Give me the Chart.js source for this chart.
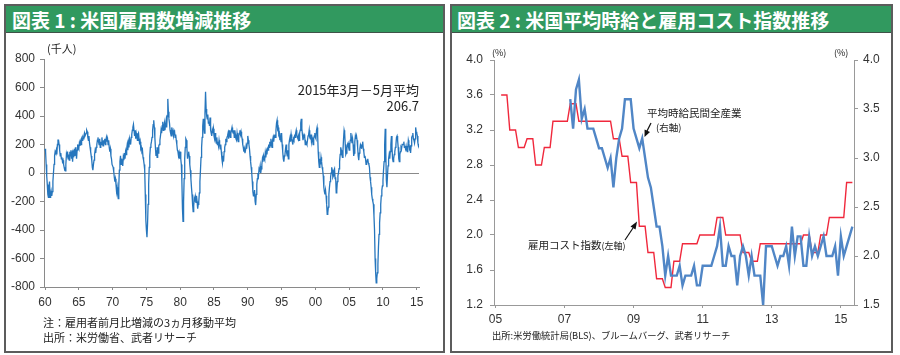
<!DOCTYPE html>
<html><head><meta charset="utf-8">
<script src="https://cdn.jsdelivr.net/npm/chart.js@4.4.1/dist/chart.umd.min.js"></script>
<style>
html,body{margin:0;padding:0;background:#fff;width:900px;height:355px;overflow:hidden;font-family:'Noto Sans CJK JP','Liberation Sans',sans-serif;}
.panel{position:absolute;top:4px;height:349px;box-sizing:border-box;border:2px solid #5c5c5c;background:#fff;}
.hdr{position:absolute;top:6px;height:27px;background:#31995f;border-bottom:1px solid #3f5248;color:#fff;font-weight:bold;font-size:19px;line-height:27px;white-space:nowrap;box-sizing:border-box;}
.t{position:absolute;white-space:nowrap;color:#222;}
canvas{position:absolute;}
svg{position:absolute;left:0;top:0;}
</style></head>
<body>
<div class="panel" style="left:4px;width:441px;"></div>
<div class="panel" style="left:450px;width:443px;"></div>
<div class="hdr" style="left:6px;width:437px;padding-left:6px;">図表 1 : 米国雇用数増減推移</div>
<div class="hdr" style="left:452px;width:439px;padding-left:5px;">図表 2 : 米国平均時給と雇用コスト指数推移</div>

<canvas id="c1" width="437" height="316" style="left:6px;top:34px;"></canvas>
<canvas id="c2" width="439" height="316" style="left:452px;top:34px;"></canvas>

<div class="t" style="left:47px;top:43px;font-size:11px;line-height:11px;">(千人)</div>
<div class="t" style="right:481px;top:83px;font-size:13px;line-height:13px;">2015年3月－5月平均</div>
<div class="t" style="right:481px;top:99px;font-size:13px;line-height:13px;">206.7</div>
<div class="t" style="left:43px;top:317px;font-size:11px;line-height:11px;">注：雇用者前月比増減の3ヵ月移動平均</div>
<div class="t" style="left:43px;top:332px;font-size:11px;line-height:11px;">出所：米労働省、武者リサーチ</div>

<div class="t" style="left:492px;top:48px;font-size:9px;line-height:9px;">(%)</div>
<div class="t" style="left:834px;top:48px;font-size:9px;line-height:9px;">(%)</div>
<div class="t" style="left:647px;top:107px;font-size:10.5px;line-height:11px;">平均時給民間全産業</div>
<div class="t" style="left:656px;top:122px;font-size:9.5px;line-height:10px;">(右軸)</div>
<div class="t" style="left:528px;top:239px;font-size:10.5px;line-height:11px;">雇用コスト指数<span style="font-size:9px;">(左軸)</span></div>
<div class="t" style="left:492px;top:330px;font-size:9.3px;line-height:10px;">出所:米労働統計局(BLS)、ブルームバーグ、武者リサーチ</div>

<svg width="900" height="355">
  <line x1="651" y1="123" x2="647" y2="131" stroke="#111" stroke-width="1.2"/>
  <polygon points="644.5,137 644.6,129.5 650,132" fill="#111"/>
  <line x1="625" y1="240" x2="633" y2="228" stroke="#111" stroke-width="1.2"/>
  <polygon points="637,221.5 630.5,226.5 635.5,229.5" fill="#111"/>
</svg>

<script>
// ---------- Chart 1: US nonfarm payroll change, 3-month moving average (thousands) ----------
const empStartYear = 1960;            // monthly, Jan 1960 .. May 2015
const employmentChange = [
  170,150,60,-20,-80,-150,-170,-100,-60,-170,-160,-130,          // 1960
  -160,-130,-60,0,60,120,150,140,160,130,200,230,                // 1961
  230,200,160,120,140,100,110,80,90,60,40,20,                    // 1962
  15,60,130,110,150,100,130,90,150,120,160,100,                  // 1963
  130,80,160,110,170,120,180,140,100,160,200,180,                // 1964
  170,210,190,220,200,240,230,250,240,260,280,260,               // 1965
  260,280,300,290,250,230,260,210,180,150,120,90,                // 1966
  40,20,60,90,130,160,140,180,200,230,250,220,                   // 1967
  200,240,180,220,200,250,210,190,230,210,240,200,               // 1968
  230,250,220,240,200,230,180,150,170,120,100,60,                // 1969
  60,40,10,-30,-60,-40,-80,-130,-100,-150,-180,-90,              // 1970
  20,80,120,60,100,80,50,110,90,140,100,150,                     // 1971
  130,170,200,160,210,180,240,220,200,250,270,300,               // 1972
  320,340,300,260,300,240,280,260,230,270,280,240,               // 1973
  200,220,170,180,150,160,110,90,60,20,-150,-330,                // 1974
  -400,-450,-360,-220,-80,40,120,180,200,220,250,300,            // 1975
  340,370,320,250,180,120,160,110,180,140,190,200,               // 1976
  230,260,300,280,330,360,300,320,350,300,340,370,               // 1977
  320,400,520,430,380,350,300,280,260,320,300,280,               // 1978
  260,300,290,250,270,230,200,160,150,120,140,100,               // 1979
  150,100,60,-60,-250,-340,-200,-40,100,180,240,230,             // 1980
  170,100,130,150,120,60,20,-40,-100,-150,-220,-270,             // 1981
  -230,-180,-200,-170,-210,-160,-200,-250,-220,-200,-140,-60,    // 1982
  20,110,180,250,330,380,320,280,420,570,450,400,                // 1983
  380,410,350,360,330,390,300,280,260,300,280,310,               // 1984
  260,240,280,230,210,250,200,220,190,230,200,170,               // 1985
  200,150,100,70,120,80,150,180,200,240,220,250,                 // 1986
  260,280,240,300,270,250,280,300,320,290,280,300,               // 1987
  250,300,270,240,230,280,250,220,260,280,300,270,               // 1988
  290,260,240,200,180,150,170,140,160,190,170,210,               // 1989
  260,230,200,170,120,80,40,0,-60,-130,-160,-150,                // 1990
  -120,-200,-225,-150,-80,-40,0,-20,30,20,50,0,                  // 1991
  30,60,100,80,120,100,90,140,110,150,130,170,                   // 1992
  160,200,180,220,190,240,210,180,230,250,220,260,               // 1993
  270,250,300,350,370,310,320,270,280,230,250,220,               // 1994
  280,200,150,100,80,120,130,170,200,140,120,160,                // 1995
  100,200,230,250,220,270,240,220,200,240,230,260,               // 1996
  250,280,300,270,250,240,260,230,280,300,350,380,               // 1997
  310,270,230,250,270,260,200,220,210,200,230,260,               // 1998
  270,300,250,240,270,220,250,230,200,240,260,280,               // 1999
  250,240,300,320,270,150,80,40,100,60,110,80,                   // 2000
  40,20,-20,-100,-130,-150,-120,-160,-220,-290,-280,-240,        // 2001
  -150,-100,-60,-30,0,40,20,-30,-20,20,30,-40,                   // 2002
  -30,-140,-120,-60,-20,0,30,80,130,180,160,130,                 // 2003
  110,160,240,300,280,200,130,140,170,200,210,180,               // 2004
  160,200,230,280,240,210,240,200,120,140,220,260,               // 2005
  240,260,230,180,120,90,140,170,200,190,170,200,                // 2006
  220,170,150,110,120,100,60,70,90,100,70,60,                    // 2007
  40,-30,-60,-100,-150,-180,-200,-220,-300,-400,-600,-700,       // 2008
  -770,-740,-700,-640,-520,-430,-350,-280,-220,-160,-120,-90,    // 2009
  -50,20,80,200,310,150,-50,-100,-20,50,100,130,                 // 2010
  100,150,200,260,180,100,80,100,130,150,180,200,                // 2011
  250,260,230,180,100,80,130,150,180,170,200,200,                // 2012
  200,220,180,190,170,190,160,150,170,230,210,170,               // 2013
  180,140,190,250,260,280,240,230,210,240,320,290,               // 2014
  280,260,210,190,206.7                                          // 2015
];
const empYearTicks = [1960,1965,1970,1975,1980,1985,1990,1995,2000,2005,2010,2015];
const empValueTicks = [-800,-600,-400,-200,0,200,400,600,800];

// ---------- Chart 2: AHE (private, YoY %, right axis) and ECI (YoY %, left axis) ----------
const wageStartYear = 2005;           // monthly, Jan 2005 .. May 2015
const eciYoY = [
  null,null,3.6,3.6,3.6,3.2,3.2,3.2,3.0,3.0,3.0,3.1,   // 2005
  3.1,3.1,2.8,2.8,2.8,3.0,3.0,3.0,3.3,3.3,3.3,3.3,     // 2006
  3.3,3.3,3.5,3.5,3.5,3.3,3.3,3.3,3.3,3.3,3.3,3.3,     // 2007
  3.3,3.3,3.3,3.3,3.3,3.1,3.1,3.1,2.9,2.9,2.9,2.6,     // 2008
  2.6,2.6,2.1,2.1,2.1,1.8,1.8,1.8,1.5,1.5,1.5,1.4,     // 2009
  1.4,1.4,1.7,1.7,1.7,1.9,1.9,1.9,1.9,1.9,1.9,2.0,     // 2010
  2.0,2.0,2.0,2.0,2.0,2.2,2.2,2.2,2.0,2.0,2.0,2.0,     // 2011
  2.0,2.0,1.8,1.8,1.8,1.7,1.7,1.7,1.9,1.9,1.9,1.9,     // 2012
  1.9,1.9,1.9,1.9,1.9,1.9,1.9,1.9,1.9,1.9,1.9,2.0,     // 2013
  2.0,2.0,1.8,1.8,1.8,2.0,2.0,2.0,2.2,2.2,2.2,2.2,     // 2014
  2.2,2.2,2.6,2.6,2.6                                  // 2015
];
const aheYoY = [
  null,null,null,null,null,null,null,null,null,null,null,null,   // 2005
  null,null,null,null,null,null,null,null,null,null,null,null,   // 2006
  null,null,3.6,3.3,3.7,3.8,3.4,3.5,3.3,3.3,3.3,3.2,             // 2007
  3.1,3.1,3.0,2.9,3.0,2.7,3.0,3.2,3.3,3.6,3.6,3.6,               // 2008
  3.3,3.2,3.1,3.2,3.0,2.8,2.7,2.5,2.3,2.3,2.1,1.8,               // 2009
  2.0,1.8,1.8,1.8,1.9,1.7,1.8,1.8,1.8,1.9,1.7,1.7,               // 2010
  1.9,1.9,1.9,1.9,2.0,2.1,2.3,1.9,1.9,2.1,2.0,2.0,               // 2011
  1.7,2.0,2.1,2.0,1.8,2.0,1.8,1.8,1.8,1.5,2.1,2.1,               // 2012
  2.1,2.0,1.9,2.0,2.0,2.1,1.9,2.3,2.0,2.2,2.2,1.9,               // 2013
  1.9,2.2,2.0,2.1,2.0,2.1,2.2,2.0,2.0,2.0,2.1,1.8,               // 2014
  2.2,2.0,2.1,2.2,2.3                                            // 2015
];
const wageYearTicks = [2005,2007,2009,2011,2013,2015];
const eciTicks = [1.2,1.6,2.0,2.4,2.8,3.2,3.6,4.0];
const aheTicks = [1.5,2.0,2.5,3.0,3.5,4.0];

const monthX = (y0, n) => Array.from({length:n}, (_, i) => y0 + i / 12);
const twoDigit = v => String(Math.round(v) % 100).padStart(2, '0');
const tickFont = {family:"'Liberation Sans', Arial, sans-serif", size:12};

// ---------- Chart 1 ----------
const empX = monthX(empStartYear, employmentChange.length);
new Chart(document.getElementById('c1'), {
  type: 'line',
  data: {datasets: [{
    data: empX.map((x, i) => ({x, y: employmentChange[i]})),
    borderColor: '#2676bd', borderWidth: 1.3, pointRadius: 0, tension: 0, fill: false
  }]},
  options: {
    responsive: false, animation: false, devicePixelRatio: 1,
    layout: {padding: {left: 0, right: 24, top: 25, bottom: 0}},
    plugins: {legend: {display: false}, tooltip: {enabled: false}},
    scales: {
      x: {
        type: 'linear', min: 1959.85, max: 2015.33,
        afterBuildTicks: s => { s.ticks = empYearTicks.map(v => ({value: v})); },
        afterFit: s => { s.height = 63; },
        border: {display: true, color: '#8a8a8a', width: 1},
        grid: {drawOnChartArea: false, drawTicks: true, tickLength: 3, tickColor: '#8a8a8a'},
        ticks: {callback: v => twoDigit(v), font: tickFont, color: '#333', padding: 5, maxRotation: 0, autoSkip: false}
      },
      y: {
        min: -800, max: 800,
        afterBuildTicks: s => { s.ticks = empValueTicks.map(v => ({value: v})); },
        afterFit: s => { s.width = 38; },
        border: {display: true, color: '#8a8a8a', width: 1},
        grid: {drawOnChartArea: true, color: c => (c.tick && c.tick.value === 0) ? '#8a8a8a' : 'rgba(0,0,0,0)',
               lineWidth: 1, drawTicks: true, tickLength: 4, tickColor: '#8a8a8a'},
        ticks: {font: tickFont, color: '#333', padding: 5}
      }
    }
  }
});

// ---------- Chart 2 ----------
const wageX = monthX(wageStartYear, eciYoY.length);
new Chart(document.getElementById('c2'), {
  type: 'line',
  data: {datasets: [
    {data: wageX.map((x, i) => ({x, y: aheYoY[i]})), yAxisID: 'yR',
     borderColor: '#5086c6', borderWidth: 2.4, pointRadius: 0, tension: 0, fill: false, spanGaps: false},
    {data: wageX.map((x, i) => ({x, y: eciYoY[i]})), yAxisID: 'yL',
     borderColor: '#f0283c', borderWidth: 1.4, pointRadius: 0, tension: 0, fill: false, spanGaps: false}
  ]},
  options: {
    responsive: false, animation: false, devicePixelRatio: 1,
    layout: {padding: {left: 0, right: 0, top: 26, bottom: 0}},
    plugins: {legend: {display: false}, tooltip: {enabled: false}},
    scales: {
      x: {
        type: 'linear', min: 2004.96, max: 2015.38,
        afterBuildTicks: s => { s.ticks = wageYearTicks.map(v => ({value: v})); },
        afterFit: s => { s.height = 45; },
        border: {display: true, color: '#999', width: 1},
        grid: {drawOnChartArea: false, drawTicks: true, tickLength: 3, tickColor: '#999'},
        ticks: {callback: v => twoDigit(v), font: tickFont, color: '#333', padding: 4, maxRotation: 0, autoSkip: false}
      },
      yL: {
        position: 'left', min: 1.2, max: 4.0,
        afterBuildTicks: s => { s.ticks = eciTicks.map(v => ({value: v})); },
        afterFit: s => { s.width = 42; },
        border: {display: true, color: '#999', width: 1},
        grid: {drawOnChartArea: false, drawTicks: true, tickLength: 4, tickColor: '#999'},
        ticks: {callback: v => Number(v).toFixed(1), font: tickFont, color: '#333', padding: 7}
      },
      yR: {
        position: 'right', min: 1.5, max: 4.0,
        afterBuildTicks: s => { s.ticks = aheTicks.map(v => ({value: v})); },
        afterFit: s => { s.width = 37; },
        border: {display: true, color: '#999', width: 1},
        grid: {drawOnChartArea: false, drawTicks: true, tickLength: 4, tickColor: '#999'},
        ticks: {callback: v => Number(v).toFixed(1), font: tickFont, color: '#333', padding: 5}
      }
    }
  }
});
</script>
</body></html>
